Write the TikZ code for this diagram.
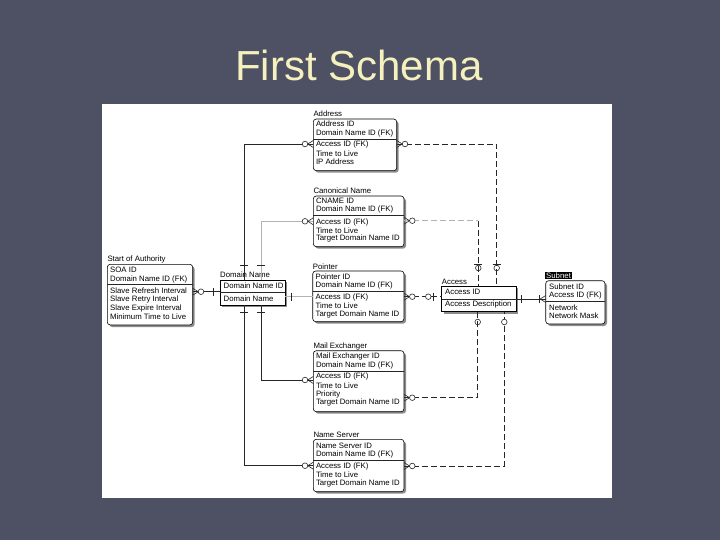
\documentclass[tikz,border=0pt]{standalone}
\usepackage{fontspec}
\setmainfont{Liberation Sans}
\usetikzlibrary{shadows}
\definecolor{slide}{RGB}{77,81,99}
\definecolor{titlecol}{RGB}{245,240,190}
\tikzset{
  ent/.style={draw=black, line width=0.6pt, fill=white, rounded corners=3pt, anchor=north west, inner sep=0pt, outer sep=0pt,
    drop shadow={shadow xshift=2pt, shadow yshift=-2pt, fill=black!45, opacity=1}},
  indep/.style={ent, rounded corners=0pt},
  row/.style={font=\fontsize{7.8}{8}\selectfont, text=black, anchor=west, inner sep=0pt},
  conn/.style={line width=0.6pt, draw=black!85},
  faint/.style={line width=0.6pt, draw=black!30},
  idash/.style={conn, dash pattern=on 6pt off 3pt},
  fdash/.style={faint, dash pattern=on 6pt off 3pt},
  sym/.style={line width=0.6pt, draw=black!85},
  zmany/.pic={\draw[sym] (0,-3.5) -- (5.5,0) -- (0,3.5); \draw[sym, fill=white] (8.3,0) circle (2.8pt);},
  onemany/.pic={\draw[sym] (0,-3.5) -- (5.5,0) -- (0,3.5); \draw[sym] (6.8,-4) -- (6.8,4);},
  vbar/.pic={\draw[sym] (0,-4) -- (0,4);},
  hbar/.pic={\draw[sym] (-4,0) -- (4,0);},
  ring/.pic={\draw[sym, fill=white] (0,0) circle (2.8pt);},
  oring/.pic={\draw[sym] (0,0) circle (2.8pt);}
}
\begin{document}
\begin{tikzpicture}[x=1pt,y=-1pt]
\useasboundingbox (0,0) rectangle (720,540);
\fill[slide] (0,0) rectangle (720,540);
\node[font=\fontsize{42}{48}\selectfont, text=titlecol, inner sep=0pt] (title) at (359,65) {First Schema};
\node[fill=white, minimum width=510pt, minimum height=394pt, anchor=north west, inner sep=0pt] (panel) at (102,104) {};

% ---------- entities ----------
% Address
\node[ent, minimum width=83.4pt, minimum height=51.7pt] (addr) at (313.3,119) {};
\node[row] at (313.3,114) {Address};
\draw[conn] (addr.west |- 0,139.3) -- (addr.east |- 0,139.3);
\node[row] at (315.8,124) {Address ID};
\node[row] at (315.8,133) {Domain Name ID (FK)};
\node[row] at (315.8,144.7) {Access ID (FK)};
\node[row] at (315.8,153.3) {Time to Live};
\node[row] at (315.8,162) {IP Address};

% Canonical Name
\node[ent, minimum width=90.7pt, minimum height=50.7pt] (cname) at (313.3,196) {};
\node[row] at (313.3,190.7) {Canonical Name};
\draw[conn] (cname.west |- 0,215.7) -- (cname.east |- 0,215.7);
\node[row] at (315.8,200.7) {CNAME ID};
\node[row] at (315.8,209.3) {Domain Name ID (FK)};
\node[row] at (315.8,222) {Access ID (FK)};
\node[row] at (315.8,230.3) {Time to Live};
\node[row] at (315.8,238.7) {Target Domain Name ID};

% Pointer
\node[ent, minimum width=91.3pt, minimum height=50.7pt] (ptr) at (312.7,271) {};
\node[row] at (312.7,266.7) {Pointer};
\draw[conn] (ptr.west |- 0,291.7) -- (ptr.east |- 0,291.7);
\node[row] at (315.5,277) {Pointer ID};
\node[row] at (315.5,285.3) {Domain Name ID (FK)};
\node[row] at (315.5,297.7) {Access ID (FK)};
\node[row] at (315.5,306) {Time to Live};
\node[row] at (315.5,314.3) {Target Domain Name ID};

% Mail Exchanger
\node[ent, minimum width=90.7pt, minimum height=61pt] (mx) at (313.3,350.7) {};
\node[row] at (313.3,346) {Mail Exchanger};
\draw[conn] (mx.west |- 0,371) -- (mx.east |- 0,371);
\node[row] at (315.8,356) {Mail Exchanger ID};
\node[row] at (315.8,365) {Domain Name ID (FK)};
\node[row] at (315.8,376.7) {Access ID (FK)};
\node[row] at (315.8,385.7) {Time to Live};
\node[row] at (315.8,394) {Priority};
\node[row] at (315.8,402.7) {Target Domain Name ID};

% Name Server
\node[ent, minimum width=90.7pt, minimum height=52.4pt] (ns) at (313.3,439.3) {};
\node[row] at (313.3,435) {Name Server};
\draw[conn] (ns.west |- 0,460.7) -- (ns.east |- 0,460.7);
\node[row] at (315.8,446) {Name Server ID};
\node[row] at (315.8,454) {Domain Name ID (FK)};
\node[row] at (315.8,466.7) {Access ID (FK)};
\node[row] at (315.8,475) {Time to Live};
\node[row] at (315.8,483.3) {Target Domain Name ID};

% Start of Authority
\node[ent, minimum width=85.4pt, minimum height=60.7pt] (soa) at (107.3,264.3) {};
\node[row] at (107.3,259.3) {Start of Authority};
\draw[conn] (soa.west |- 0,284.3) -- (soa.east |- 0,284.3);
\node[row] at (110,270) {SOA ID};
\node[row] at (110,279) {Domain Name ID (FK)};
\node[row] at (110,291) {Slave Refresh Interval};
\node[row] at (110,299.7) {Slave Retry Interval};
\node[row] at (110,308.3) {Slave Expire Interval};
\node[row] at (110,316.7) {Minimum Time to Live};

% Domain Name
\node[indep, minimum width=65pt, minimum height=25pt] (dn) at (220,280) {};
\node[row] at (220,275) {Domain Name};
\draw[conn] (dn.west |- 0,292.7) -- (dn.east |- 0,292.7);
\node[row] at (223.5,285.7) {Domain Name ID};
\node[row] at (223.5,298.3) {Domain Name};

% Access
\node[indep, minimum width=74.3pt, minimum height=25.7pt] (acc) at (441.7,286) {};
\node[row] at (441.7,281.7) {Access};
\draw[conn] (acc.west |- 0,299) -- (acc.east |- 0,299);
\node[row] at (445,292) {Access ID};
\node[row] at (445,304.5) {Access Description};

% Subnet
\node[ent, minimum width=59.3pt, minimum height=43.3pt] (sub) at (545.7,280.7) {};
\node[row, fill=black, text=white, inner xsep=1pt, inner ysep=0.8pt] at (545,275.8) {Subnet};
\draw[conn] (sub.west |- 0,301.7) -- (sub.east |- 0,301.7);
\node[row] at (549,286.7) {Subnet ID};
\node[row] at (549,295) {Access ID (FK)};
\node[row] at (549,307.7) {Network};
\node[row] at (549,316) {Network Mask};

% ---------- connectors ----------
\draw[conn] (soa.east |- 0,291.7) -- (dn.west |- 0,291.7);
\draw[conn] (dn.north -| 244.3,0) |- (addr.west |- 0,144);
\draw[faint] (dn.north -| 261.3,0) |- (cname.west |- 0,221.3);
\draw[faint] (dn.east |- 0,296.7) -- (ptr.west |- 0,296.7);
\draw[conn] (dn.south -| 261.3,0) |- (mx.west |- 0,380);
\draw[conn] (dn.south -| 244.3,0) |- (ns.west |- 0,465.7);
\draw[conn] (acc.east |- 0,299) -- (sub.west |- 0,299);

\draw[idash] (addr.east |- 0,144) -| (acc.north -| 496.7,0);
\draw[fdash] (cname.east |- 0,220.7) -- (478.3,220.7);
\draw[idash] (478.3,220.7) -- (acc.north -| 478.3,0);
\draw[idash] (ptr.east |- 0,296.7) -- (acc.west |- 0,296.7);
\draw[idash] (mx.east |- 0,397.7) -| (acc.south -| 477.7,0);
\draw[idash] (ns.east |- 0,466) -| (acc.south -| 504.3,0);

% ---------- end symbols ----------
\pic at (192.7,291.7) {zmany};
\pic at (213.3,291.7) {vbar};
\pic[rotate=180] at (313.3,144) {zmany};
\pic at (396.7,144) {zmany};
\pic[rotate=180] at (313.3,221.3) {zmany};
\pic at (404,220.7) {zmany};
\pic at (404,296.7) {zmany};
\pic at (291.7,296.7) {vbar};
\pic[rotate=180] at (313.3,380) {zmany};
\pic at (404,397.7) {zmany};
\pic[rotate=180] at (313.3,465.7) {zmany};
\pic at (404,466) {zmany};
\pic at (244.3,265) {hbar};
\pic at (261.3,265) {hbar};
\pic at (244.3,312.3) {hbar};
\pic at (261.3,312.3) {hbar};
\pic at (428.3,296.7) {ring};
\pic at (433.5,296.7) {vbar};
\pic at (478.3,264) {hbar};
\pic at (478.3,268) {oring};
\pic at (496.7,264) {hbar};
\pic at (496.7,268) {oring};
\pic at (477.7,322) {oring};
\pic at (504.3,322) {ring};
\pic at (521.7,299) {vbar};
\pic[rotate=180] at (545.7,299) {onemany};
\end{tikzpicture}
\end{document}
